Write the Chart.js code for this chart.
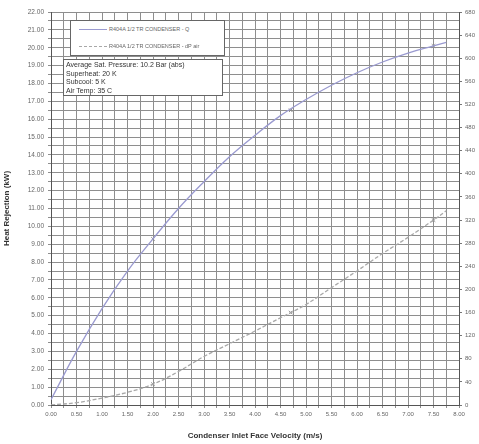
<!DOCTYPE html>
<html>
<head>
<meta charset="utf-8">
<title>Heat Rejection vs Face Velocity</title>
<script src="https://cdn.jsdelivr.net/npm/chart.js@4.4.0/dist/chart.umd.min.js"></script>
<style>
  html, body { margin: 0; padding: 0; background: #fff; }
  #wrap { position: relative; width: 479px; height: 444px; }
  canvas { display: block; }
  .box {
    position: absolute; background: #fff; border: 1px solid #666;
    font-family: "Liberation Sans", Arial, sans-serif; color: #444;
    box-sizing: border-box;
  }
  #legend { left: 70px; top: 20px; width: 155px; height: 36px; }
  .row { position: absolute; left: 0; right: 0; height: 10px; font-size: 5.5px; line-height: 10px; }
  .row .swatch { position: absolute; left: 8px; top: 5px; width: 28px; border-top: 1px solid #aaa; }
  .row .lbl { position: absolute; left: 38px; white-space: nowrap; color: #666; }
  #info { left: 63px; top: 59px; width: 160px; height: 37px; padding: 1px 0 0 2px;
          font-size: 7px; line-height: 8.5px; color: #333; }
</style>
</head>
<body>
<div id="wrap">
  <canvas id="chart" width="479" height="444"></canvas>
  <div class="box" id="legend">
    <div class="row" style="top:3px"><span class="swatch" style="border-color:#9a9ad0"></span><span class="lbl">R404A 1/2 TR CONDENSER - Q</span></div>
    <div class="row" style="top:20px"><span class="swatch" style="border-color:#a8a8a8;border-top-style:dashed"></span><span class="lbl">R404A 1/2 TR CONDENSER - dP air</span></div>
  </div>
  <div class="box" id="info">
    <div>Average Sat. Pressure: 10.2 Bar (abs)</div>
    <div>Superheat: 20 K</div>
    <div>Subcool: 5 K</div>
    <div>Air Temp: 35 C</div>
  </div>
</div>
<script>
// Condenser inlet face velocity (m/s)
const velocity = [0, 0.5, 1.0, 1.5, 2.0, 2.5, 3.0, 3.5, 4.0, 4.5, 5.0, 5.5, 6.0, 6.5, 7.0, 7.5, 7.75];
// Heat rejection (kW), left axis
const heatRejection = [0.3, 3.0, 5.4, 7.5, 9.3, 11.0, 12.5, 13.9, 15.1, 16.2, 17.1, 17.9, 18.6, 19.2, 19.7, 20.1, 20.3];
// Air-side pressure drop, right axis
const pressureDrop = [0, 4, 12, 22, 36, 58, 84, 106, 128, 151, 174, 203, 232, 262, 290, 320, 336];

// Measured points
const markerVelocity = [2.0, 4.7, 7.5];
const markerHeat = [9.3, 16.5, 20.1];
const markerDrop = [36, 160, 320];

// Axis ranges and steps
const xRange = [0, 8];
const xLabelStep = 0.5;
const xGridStep = 0.25;
const yRange = [0, 22];
const yGridStep = 0.5;
const y1Range = [0, 680];
const y1Step = 40;

const pts = (xs, ys) => xs.map((x, i) => ({ x: x, y: ys[i] }));
const isMultiple = (v, step) => Math.abs(v / step - Math.round(v / step)) < 1e-9;

const gridColor = '#8e8e8e';
const tickFont = { family: '"Liberation Sans", Arial, sans-serif', size: 6.5 };
const titleFont = { family: '"Liberation Sans", Arial, sans-serif', size: 8, weight: 'bold' };

new Chart(document.getElementById('chart'), {
  type: 'line',
  data: {
    datasets: [
      {
        label: 'Heat Rejection',
        data: pts(velocity, heatRejection),
        yAxisID: 'y',
        borderColor: '#9a9ad0',
        borderWidth: 1.3,
        pointRadius: 0,
        tension: 0.4,
        fill: false
      },
      {
        label: 'Pressure Drop',
        data: pts(velocity, pressureDrop),
        yAxisID: 'y1',
        borderColor: '#a8a8a8',
        borderWidth: 1.3,
        borderDash: [4, 2],
        pointRadius: 0,
        tension: 0.4,
        fill: false
      },
      {
        label: 'Heat Rejection (measured)',
        data: pts(markerVelocity, markerHeat),
        yAxisID: 'y',
        showLine: false,
        pointStyle: 'crossRot',
        pointRadius: 2.5,
        pointBorderColor: '#888',
        pointBorderWidth: 1
      },
      {
        label: 'Pressure Drop (measured)',
        data: pts(markerVelocity, markerDrop),
        yAxisID: 'y1',
        showLine: false,
        pointStyle: 'crossRot',
        pointRadius: 2.5,
        pointBorderColor: '#888',
        pointBorderWidth: 1
      }
    ]
  },
  options: {
    responsive: false,
    animation: false,
    devicePixelRatio: 1,
    layout: { padding: { top: 12, left: 0, right: 0, bottom: 0 } },
    plugins: { legend: { display: false }, tooltip: { enabled: false } },
    scales: {
      x: {
        type: 'linear',
        min: xRange[0], max: xRange[1],
        afterFit: s => { s.height = 39; },
        ticks: {
          stepSize: xGridStep,
          autoSkip: false,
          maxRotation: 0,
          padding: 3,
          color: '#666',
          font: { ...tickFont, size: 6 },
          callback: v => isMultiple(v, xLabelStep) ? Number(v).toFixed(2) : ''
        },
        grid: { color: gridColor, lineWidth: 1, tickLength: 3 },
        border: { color: '#555', width: 1 },
        title: {
          display: true,
          text: 'Condenser Inlet Face Velocity (m/s)',
          color: '#333',
          font: titleFont,
          padding: { top: 2, bottom: 3 }
        }
      },
      y: {
        position: 'left',
        min: yRange[0], max: yRange[1],
        afterFit: s => { s.width = 51; },
        ticks: {
          stepSize: yGridStep,
          autoSkip: false,
          padding: 4,
          color: '#666',
          font: tickFont,
          callback: v => isMultiple(v, 1) ? Number(v).toFixed(2) : ''
        },
        grid: { color: gridColor, lineWidth: 1, tickLength: 3 },
        border: { color: '#555', width: 1 },
        title: {
          display: true,
          text: 'Heat Rejection (kW)',
          color: '#333',
          font: titleFont,
          padding: { top: 2, bottom: 2 }
        }
      },
      y1: {
        position: 'right',
        min: y1Range[0], max: y1Range[1],
        afterFit: s => { s.width = 20; },
        ticks: {
          stepSize: y1Step,
          autoSkip: false,
          padding: 3,
          color: '#666',
          font: { ...tickFont, size: 6 }
        },
        grid: { drawOnChartArea: false, tickLength: 3, color: '#777' },
        border: { color: '#555', width: 1 }
      }
    }
  }
});
</script>
</body>
</html>
